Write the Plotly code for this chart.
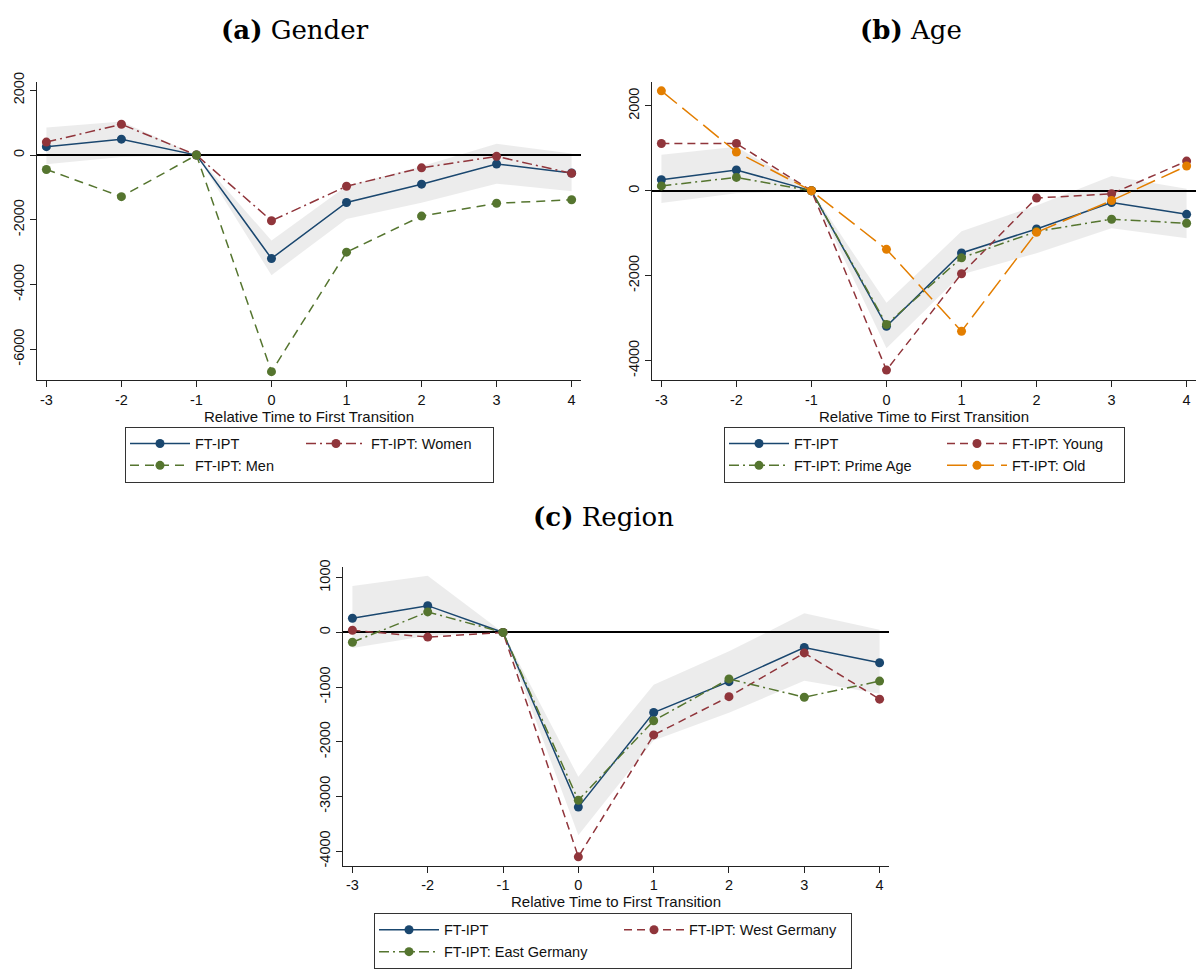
import plotly.graph_objects as go

# ---------------- data ----------------
rel_time = [-3, -2, -1, 0, 1, 2, 3, 4]
x_ticktext = ["-3", "-2", "-1", "0", "1", "2", "3", "4"]

ft_ipt = [260, 490, 0, -3195, -1465, -900, -275, -555]
ci_upper = [850, 1035, 0, -2640, -955, -345, 350, 50]
ci_lower = [-285, -60, 0, -3710, -1975, -1470, -885, -1120]

# (a) Gender
women = [400, 950, 0, -2030, -965, -395, -40, -565]
men = [-445, -1285, 0, -6690, -3000, -1885, -1490, -1380]

# (b) Age
young = [1115, 1115, 0, -4225, -1955, -170, -70, 700]
prime_age = [115, 315, 0, -3150, -1580, -960, -670, -765]
old = [2355, 915, 0, -1380, -3310, -980, -230, 585]

# (c) Region
west = [40, -85, 0, -4105, -1875, -1175, -375, -1220]
east = [-180, 375, 0, -3070, -1615, -850, -1185, -890]

yticks_a = [-6000, -4000, -2000, 0, 2000]
yticks_b = [-4000, -2000, 0, 2000]
yticks_c = [-4000, -3000, -2000, -1000, 0, 1000]

titles = ["<b>(a)</b> Gender", "<b>(b)</b> Age", "<b>(c)</b> Region"]
x_title = "Relative Time to First Transition"

# ---------------- style ----------------
W, H = 1196, 969
NAVY = "#1a476f"
MAROON = "#90353b"
GREEN = "#55752f"
ORANGE = "#e37e00"
BAND = "rgba(0,0,0,0.075)"
AX = "#222222"
SANS = "Liberation Sans, Arial, sans-serif"
SERIF = "DejaVu Serif, serif"

fig = go.Figure()


def px_x(p):
    return p / W


def px_y(p):
    return 1 - p / H


def add_panel(xa, ya, legend, series, groups, widths):
    xs = rel_time
    fig.add_trace(go.Scatter(
        x=xs + xs[::-1], y=ci_upper + ci_lower[::-1], fill="toself",
        fillcolor=BAND, line=dict(width=0), mode="lines", hoverinfo="skip",
        showlegend=False, xaxis=xa, yaxis=ya))
    for (name, vals, color, dash), grp, lw in zip(series, groups, widths):
        fig.add_trace(go.Scatter(
            x=xs, y=vals, name=name, mode="lines+markers",
            line=dict(color=color, width=1.5, dash=dash),
            marker=dict(color=color, size=9),
            xaxis=xa, yaxis=ya, legend=legend, legendgroup=grp,
            legendwidth=lw))


add_panel("x", "y", "legend",
          [("FT-IPT", ft_ipt, NAVY, "solid"),
           ("FT-IPT: Women", women, MAROON, "10px,4px,2px,4px"),
           ("FT-IPT: Men", men, GREEN, "9px,6px")],
          ["a1", "a2", "a1"], [101, 117, 101])
add_panel("x2", "y2", "legend2",
          [("FT-IPT", ft_ipt, NAVY, "solid"),
           ("FT-IPT: Young", young, MAROON, "8px,5px"),
           ("FT-IPT: Prime Age", prime_age, GREEN, "10px,4px,2px,4px"),
           ("FT-IPT: Old", old, ORANGE, "20px,7px")],
          ["b1", "b2", "b1", "b2"], [143, 107, 143, 107])
add_panel("x3", "y3", "legend3",
          [("FT-IPT", ft_ipt, NAVY, "solid"),
           ("FT-IPT: West Germany", west, MAROON, "8px,5px"),
           ("FT-IPT: East Germany", east, GREEN, "10px,4px,2px,4px")],
          ["c1", "c2", "c1"], [170, 157, 170])

tickfont = dict(family=SANS, size=14.5, color="#111")
common_x = dict(tickmode="array", tickvals=rel_time, ticktext=x_ticktext,
                range=[-3.125, 4.125], showline=True, linecolor=AX, linewidth=1,
                ticks="outside", ticklen=6, tickcolor=AX, showgrid=False,
                zeroline=False, tickfont=tickfont,
                title=dict(text=x_title, font=dict(family=SANS, size=15, color="#111"),
                           standoff=0))
common_y = dict(tickmode="array", showline=True, linecolor=AX, linewidth=1,
                ticks="outside", ticklen=6, tickcolor=AX, showgrid=False,
                zeroline=True, zerolinecolor="#000", zerolinewidth=1.5,
                tickangle=-90, tickfont=tickfont)


def ylabels(vals):
    return [str(v) for v in vals]


fig.update_layout(
    width=W, height=H, margin=dict(l=0, r=0, t=0, b=0),
    paper_bgcolor="white", plot_bgcolor="white",
    xaxis=dict(common_x, domain=[px_x(37), px_x(581)], anchor="y"),
    yaxis=dict(common_y, domain=[px_y(377), px_y(73)], anchor="x",
               range=[-6960, 2265], tickvals=yticks_a, ticktext=ylabels(yticks_a)),
    xaxis2=dict(common_x, domain=[px_x(652), 1.0], anchor="y2"),
    yaxis2=dict(common_y, domain=[px_y(377), px_y(73)], anchor="x2",
                range=[-4468, 2570], tickvals=yticks_b, ticktext=ylabels(yticks_b)),
    xaxis3=dict(common_x, domain=[px_x(343), px_x(889)], anchor="y3"),
    yaxis3=dict(common_y, domain=[px_y(871), px_y(567)], anchor="x3",
                range=[-4267, 1196], tickvals=yticks_c, ticktext=ylabels(yticks_c)),
)

legend_common = dict(orientation="h", traceorder="grouped", itemwidth=60,
                     font=dict(family=SANS, size=14.5, color="#111"),
                     bordercolor="#333", borderwidth=1, bgcolor="white",
                     xanchor="left", yanchor="top", itemclick=False,
                     itemdoubleclick=False)
fig.update_layout(
    legend=dict(legend_common, x=px_x(125), y=px_y(424)),
    legend2=dict(legend_common, x=px_x(724), y=px_y(424)),
    legend3=dict(legend_common, x=px_x(374), y=px_y(919)),
)

for text, cx, cy in zip(titles, [295, 911, 603], [20, 20, 516]):
    fig.add_annotation(text=text, x=px_x(cx), y=px_y(cy), xref="paper", yref="paper",
                       showarrow=False, xanchor="center", yanchor="middle",
                       font=dict(family=SERIF, size=26, color="#000"))

fig.write_html("out.html")
